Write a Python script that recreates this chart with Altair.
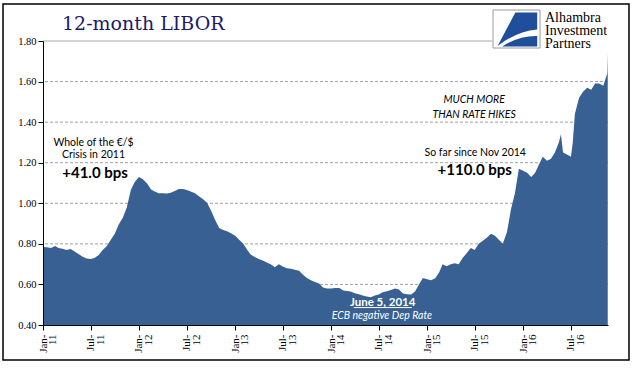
import altair as alt
import pandas as pd

# ---------------- data ----------------
years = [2011, 2012, 2013, 2014, 2015, 2016]

# 12-month LIBOR (%), read on the 1st and 16th of each month
libor_2011 = [0.785, 0.783, 0.780, 0.790, 0.780, 0.776, 0.770, 0.775, 0.762, 0.750, 0.736, 0.728,
              0.725, 0.730, 0.745, 0.770, 0.790, 0.820, 0.850, 0.895, 0.930, 0.980, 1.065, 1.105]
libor_2012 = [1.130, 1.118, 1.097, 1.068, 1.058, 1.050, 1.050, 1.048, 1.052, 1.060, 1.070, 1.070,
              1.066, 1.058, 1.050, 1.035, 1.020, 1.003, 0.965, 0.920, 0.878, 0.868, 0.862, 0.852]
libor_2013 = [0.840, 0.820, 0.800, 0.770, 0.748, 0.735, 0.725, 0.718, 0.708, 0.700, 0.685, 0.700,
              0.688, 0.680, 0.677, 0.672, 0.668, 0.648, 0.632, 0.620, 0.612, 0.605, 0.585, 0.580]
libor_2014 = [0.580, 0.582, 0.583, 0.570, 0.568, 0.565, 0.556, 0.552, 0.546, 0.540, 0.537, 0.545,
              0.550, 0.562, 0.566, 0.572, 0.580, 0.575, 0.555, 0.552, 0.550, 0.565, 0.600, 0.632]
libor_2015 = [0.625, 0.620, 0.630, 0.660, 0.700, 0.690, 0.700, 0.705, 0.700, 0.730, 0.755, 0.780,
              0.770, 0.800, 0.815, 0.830, 0.850, 0.840, 0.820, 0.800, 0.860, 0.970, 1.050, 1.170]
libor_2016 = [1.160, 1.150, 1.130, 1.150, 1.190, 1.230, 1.210, 1.220, 1.250, 1.300, 1.250, 1.240,
              1.230, 1.440, 1.520, 1.550, 1.570, 1.560, 1.590, 1.590, 1.580, 1.640]

extra_dates = ["2016-05-24", "2016-07-08", "2016-11-18"]
extra_values = [1.340, 1.300, 1.740]

grid_values = [0.6, 0.8, 1.0, 1.2, 1.4, 1.6]
top_grid = [1.8]
y_ticks = [0.4, 0.6, 0.8, 1.0, 1.2, 1.4, 1.6, 1.8]

values = libor_2011 + libor_2012 + libor_2013 + libor_2014 + libor_2015 + libor_2016
dates = [f"{y}-{m:02d}-{d:02d}" for y in years for m in range(1, 13) for d in (1, 16)]
dates = dates[:len(values)]
df = pd.DataFrame({"date": dates + extra_dates, "value": values + extra_values}).sort_values("date")

tick_dates = [alt.DateTime(year=y, month=m, date=1, utc=True) for y in years for m in (1, 7)]

AREA = "#386092"
SANS = "Lato"
SERIF = "Liberation Serif"

x_scale = alt.Scale(type="utc",
                    domain=[alt.DateTime(year=2011, month=1, date=1, utc=True),
                            alt.DateTime(year=2016, month=11, date=19, utc=True)])
y_scale = alt.Scale(domain=[0.4, 1.8], nice=False, zero=False)

one = pd.DataFrame({"a": [0]})

# ---------------- layers ----------------
grid = alt.Chart(pd.DataFrame({"value": grid_values})).mark_rule(
    color="#a0a0a0", strokeDash=[3, 2], strokeWidth=1
).encode(y=alt.Y("value:Q", scale=y_scale, title=None))

grid_top = alt.Chart(pd.DataFrame({"value": top_grid})).mark_rule(
    color="#a8a8a8", strokeWidth=1
).encode(y=alt.Y("value:Q", scale=y_scale, title=None))

area = alt.Chart(df).mark_area(color=AREA, opacity=1).encode(
    x=alt.X("date:T", scale=x_scale, title=None,
            axis=alt.Axis(values=tick_dates,
                          labelExpr="[utcFormat(datum.value, '%b') + '-', utcFormat(datum.value, '%y')]",
                          labelAngle=270, labelAlign="right", labelBaseline="middle",
                          labelPadding=4, tickSize=5, labelFontSize=11, labelFont=SERIF,
                          labelLineHeight=9.5, labelColor="black", domainColor="black",
                          tickColor="black", labelOverlap=False, labelFlush=False,
                          grid=False, zindex=1)),
    y=alt.Y("value:Q", scale=y_scale, title=None,
            axis=alt.Axis(values=y_ticks, format=".2f", labelFont=SERIF, labelFontSize=10.5,
                          labelColor="black", tickSize=5, labelPadding=2, domainColor="black",
                          tickColor="black", grid=False, zindex=1)),
    y2=alt.datum(0.4),
)


def note(text, date, value, size=11, weight="normal", style="normal", color="black", lh=12):
    return alt.Chart(pd.DataFrame({"date": [date], "value": [value]})).mark_text(
        text=text, font=SANS, fontSize=size, fontWeight=weight, fontStyle=style,
        color=color, align="center", baseline="middle", lineHeight=lh
    ).encode(x=alt.X("date:T", title=None), y=alt.Y("value:Q", title=None))


notes = [
    note(["Whole of the €/$", "Crisis in 2011"], "2011-07-12", 1.297, size=10.5, lh=11.6),
    note("+41.0 bps", "2011-07-18", 1.151, size=15, weight="bold"),
    note(["MUCH MORE", "THAN RATE HIKES"], "2015-06-29", 1.508, size=10.5, style="italic", lh=15),
    note("So far since Nov 2014", "2015-07-03", 1.248, size=10.5),
    note("+110.0 bps", "2015-07-01", 1.166, size=15, weight="bold"),
    note("June 5, 2014", "2014-07-16", 0.510, size=11.5, weight="bold", color="white"),
    note("ECB negative Dep Rate", "2014-07-13", 0.445, size=10.5, style="italic", color="white"),
]

underline = alt.Chart(pd.DataFrame({"date": ["2014-03-28"], "date2": ["2014-11-04"], "value": [0.486]})).mark_rule(
    color="white", strokeWidth=1
).encode(x=alt.X("date:T", title=None), x2="date2:T", y=alt.Y("value:Q", title=None))

# ---------------- decorations ----------------
title = alt.Chart(one).mark_text(
    text="12-month LIBOR", font="DejaVu Serif", fontSize=19, color="#1b1b6b",
    align="left", baseline="alphabetic"
).encode(x=alt.value(19), y=alt.value(-11))

logo_bg = alt.Chart(one).mark_rect(color="white").encode(
    x=alt.value(449), x2=alt.value(578), y=alt.value(-36), y2=alt.value(10))
logo_box = alt.Chart(one).mark_rect(filled=False, stroke="#9a9a9a", strokeWidth=1).encode(
    x=alt.value(450), x2=alt.value(497), y=alt.value(-31), y2=alt.value(7))
logo_path = ("M -0.05 -0.72 L 0.9 -0.72 L 0.9 0.02 Q 0.0 0.1 -0.82 0.74 Z "
             "M -0.62 0.76 Q 0.1 0.28 0.9 0.3 L 0.9 0.76 Z")
logo_shape = alt.Chart(one).mark_point(
    shape=logo_path, filled=True, color="#1f4e9a", opacity=1, size=2116, strokeWidth=0
).encode(x=alt.value(473.5), y=alt.value(-12))
logo_text = alt.Chart(one).mark_text(
    text=["Alhambra", "Investment", "Partners"], font=SERIF, fontSize=14, color="black",
    align="left", baseline="alphabetic", lineHeight=13
).encode(x=alt.value(502), y=alt.value(-19))

frame = alt.Chart(one).mark_rect(filled=False, stroke="black", strokeWidth=1.5).encode(
    x=alt.value(-40), x2=alt.value(586), y=alt.value(-37), y2=alt.value(319))

chart = alt.layer(
    grid, grid_top, area, *notes, underline, title, logo_bg, logo_box, logo_shape, logo_text, frame
).properties(
    width=565, height=284,
    autosize=alt.AutoSizeParams(type="none"),
    padding={"left": 43, "top": 41, "right": 33, "bottom": 50},
    background="white",
).configure_view(stroke=None)

chart.save("out.html", embed_options={"renderer": "svg", "actions": False})
